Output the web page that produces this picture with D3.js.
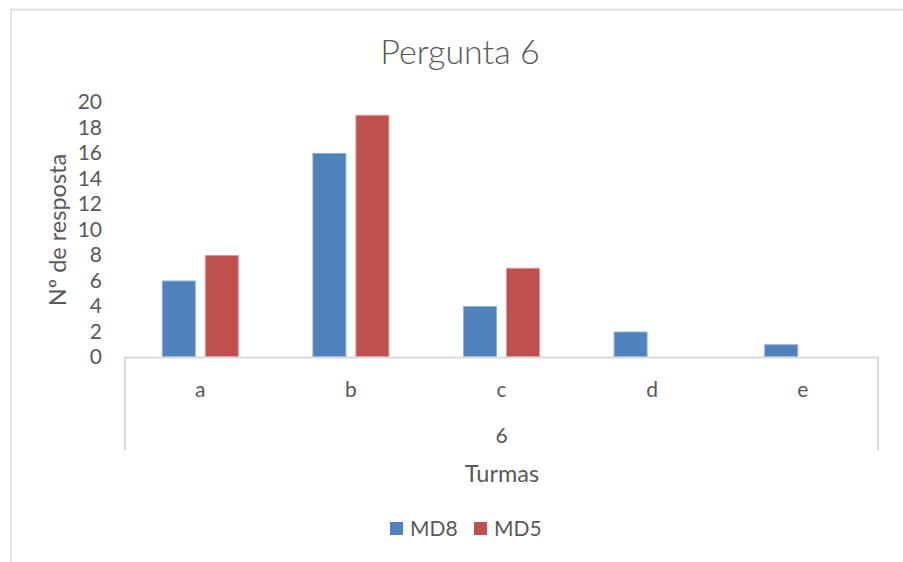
<!DOCTYPE html>
<html>
<head>
<meta charset="utf-8">
<script src="https://cdn.jsdelivr.net/npm/d3@7"></script>
<style>
  html, body { margin: 0; padding: 0; background: #fff; }
  svg { display: block; font-family: Lato, "Open Sans", sans-serif; }
</style>
</head>
<body>
<svg id="chart" width="903" height="562"></svg>
<script>
// Answers per option for question 6, by class
const categories = ["a", "b", "c", "d", "e"];
const seriesNames = ["MD8", "MD5"];
const md8Values = [6, 16, 4, 2, 1];
const md5Values = [8, 19, 7, 0, 0];
const yTicks = [0, 2, 4, 6, 8, 10, 12, 14, 16, 18, 20];
const groupLabel = "6";
const colors = ["#4F81BD", "#C0504D"];
const strokes = ["#8FB0D8", "#DA9C9A"];

const svg = d3.select("#chart");
const textColor = "#595959";
const lineColor = "#D9D9D9";

// outer chart frame
svg.append("rect")
  .attr("x", 11).attr("y", 9.5)
  .attr("width", 1000).attr("height", 1000)
  .attr("fill", "none").attr("stroke", lineColor).attr("stroke-width", 1.5);

const plot = { left: 125, right: 878, top: 102, bottom: 357 };

const y = d3.scaleLinear().domain([0, 20]).range([plot.bottom, plot.top]);
const x0 = d3.scaleBand().domain(categories).range([plot.left, plot.right]).padding(0);
const groupW = 77;
const x1 = d3.scaleBand().domain(seriesNames)
  .range([(x0.bandwidth() - groupW) / 2, (x0.bandwidth() + groupW) / 2])
  .paddingInner(0.21).paddingOuter(0);

// title
svg.append("text")
  .attr("x", 460).attr("y", 64)
  .attr("text-anchor", "middle")
  .attr("fill", textColor)
  .style("font-size", "34px")
  .style("font-weight", 300)
  .text("Pergunta 6");

// y axis (labels only)
const yAxis = d3.axisLeft(y).tickValues(yTicks).tickSize(0).tickPadding(0);
const yg = svg.append("g").attr("transform", `translate(102,0)`).call(yAxis);
yg.select(".domain").remove();
yg.selectAll("text").attr("fill", textColor).style("font-size", "21px")
  .style("font-family", "Lato, sans-serif");

// y axis title
svg.append("text")
  .attr("transform", "translate(57,230) rotate(-90)")
  .attr("text-anchor", "middle")
  .attr("dominant-baseline", "central")
  .attr("fill", textColor)
  .style("font-size", "23.5px")
  .text("Nº de resposta");

// bars
const data = categories.map((c, i) => ({ cat: c, vals: [md8Values[i], md5Values[i]] }));
const groups = svg.append("g").selectAll("g").data(data).join("g")
  .attr("transform", d => `translate(${x0(d.cat)},0)`);
groups.selectAll("rect")
  .data(d => d.vals.map((v, k) => ({ key: seriesNames[k], v, k })).filter(e => e.v > 0))
  .join("rect")
  .attr("x", e => x1(e.key) + 0.5)
  .attr("width", x1.bandwidth() - 1)
  .attr("y", e => y(e.v) + 0.5)
  .attr("height", e => y(0) - y(e.v) - 0.5)
  .attr("fill", e => colors[e.k])
  .attr("stroke", e => strokes[e.k])
  .attr("stroke-width", 1);

// category axis with grouped label box
const xAxisG = svg.append("g");
xAxisG.append("line")
  .attr("x1", plot.left - 1).attr("x2", plot.right + 1)
  .attr("y1", plot.bottom + 0.5).attr("y2", plot.bottom + 0.5)
  .attr("stroke", lineColor).attr("stroke-width", 2);
[plot.left, plot.right].forEach(xx => {
  xAxisG.append("line")
    .attr("x1", xx).attr("x2", xx)
    .attr("y1", plot.bottom).attr("y2", 450)
    .attr("stroke", lineColor).attr("stroke-width", 2);
});
xAxisG.selectAll("text.cat").data(categories).join("text")
  .attr("class", "cat")
  .attr("x", c => x0(c) + x0.bandwidth() / 2)
  .attr("y", 397)
  .attr("text-anchor", "middle")
  .attr("fill", textColor)
  .style("font-size", "21px")
  .text(c => c);
xAxisG.append("text")
  .attr("x", (plot.left + plot.right) / 2).attr("y", 443)
  .attr("text-anchor", "middle")
  .attr("fill", textColor)
  .style("font-size", "21px")
  .text(groupLabel);

// x axis title
svg.append("text")
  .attr("x", 502).attr("y", 482)
  .attr("text-anchor", "middle")
  .attr("fill", textColor)
  .style("font-size", "23.5px")
  .text("Turmas");

// legend
const legendX = [390, 474];
const leg = svg.append("g").selectAll("g").data(seriesNames).join("g")
  .attr("transform", (d, i) => `translate(${legendX[i]},522)`);
leg.append("rect").attr("width", 13).attr("height", 13)
  .attr("fill", (d, i) => colors[i]);
leg.append("text").attr("x", 20).attr("y", 13.5)
  .attr("fill", textColor).style("font-size", "21px")
  .text(d => d);
</script>
</body>
</html>
